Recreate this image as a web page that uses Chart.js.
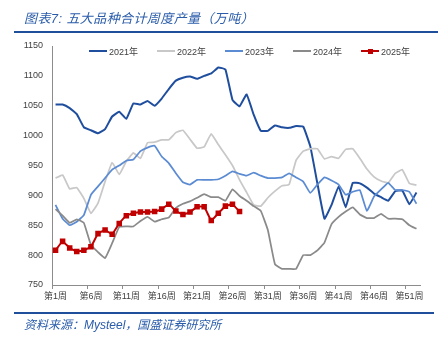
<!DOCTYPE html>
<html>
<head>
<meta charset="utf-8">
<script src="https://cdn.jsdelivr.net/npm/chart.js@4.4.1/dist/chart.umd.min.js"></script>
<style>
  body { margin: 0; background: #fff; }
  #wrap { position: relative; width: 438px; height: 339px; overflow: hidden; }
  #chart { position: absolute; left: 0; top: 0; }
  .caption {
    position: absolute; left: 24px; color: #2a5caa; font-style: italic;
    font-family: "Liberation Sans", "Noto Sans CJK SC", sans-serif; white-space: nowrap;
  }
  #title { top: 8px; font-size: 13px; letter-spacing: 0.4px; }
  #source { top: 315px; font-size: 12px; }
  .rule { position: absolute; left: 14px; height: 2px; background: #1f4e9a; }
  #legend {
    position: absolute; left: 89px; top: 45px; height: 12px; display: flex;
    font: 9px "Liberation Sans", "Noto Sans CJK SC", sans-serif; color: #404040;
  }
  .item { width: 68px; display: flex; align-items: center; }
  .swatch { position: relative; width: 18px; height: 2px; margin-right: 2px; }
  .swatch .dot { position: absolute; left: 6.5px; top: -1.5px; width: 5px; height: 5px; }
</style>
</head>
<body>
<div id="wrap">
  <canvas id="chart" width="438" height="339"></canvas>
  <div id="title" class="caption">图表7:  五大品种合计周度产量（万吨）</div>
  <div class="rule" style="top:31px;width:424px"></div>
  <div id="legend"></div>
  <div class="rule" style="top:312px;width:420px"></div>
  <div id="source" class="caption">资料来源：Mysteel，国盛证券研究所</div>
</div>
<script>
// 第1周 ... 第52周
const weeks = Array.from({ length: 52 }, (_, i) => `第${i + 1}周`);

const seriesNames = ["2021年", "2022年", "2023年", "2024年", "2025年"];
const seriesColors = ["#1f4e9e", "#c8c8c8", "#5b8bd2", "#8a8a8a", "#c00000"];

const y2021 = [1052, 1052, 1046, 1036, 1014, 1009, 1004, 1011, 1032, 1040,
  1028, 1054, 1052, 1058, 1050, 1062, 1078, 1092, 1097, 1099,
  1095, 1100, 1104, 1114, 1111, 1060, 1049, 1069, 1035, 1008,
  1008, 1017, 1014, 1013, 1016, 1015, 982, 920, 861, 884,
  915, 880, 921, 920, 913, 903, 897, 891, 907, 908,
  885, 905];
const y2022 = [929, 934, 911, 913, 895, 870, 887, 923, 955, 935,
  957, 971, 962, 988, 989, 993, 993, 1005, 1009, 994,
  979, 981, 1003, 985, 968, 950, 926, 905, 884, 882,
  896, 907, 916, 918, 959, 974, 978, 978, 961, 965,
  962, 977, 978, 962, 944, 931, 924, 921, 937, 943,
  920, 917];
const y2023 = [884, 861, 850, 856, 867, 901, 915, 929, 943, 950,
  958, 960, 974, 980, 983, 965, 954, 937, 922, 918,
  926, 926, 926, 927, 933, 940, 936, 933, 938, 933,
  929, 929, 930, 937, 930, 923, 904, 918, 930, 925,
  918, 901, 906, 909, 874, 898, 910, 921, 909, 909,
  906, 886];
const y2024 = [877, 866, 854, 860, 854, 817, 805, 795, 820, 847,
  848, 848, 857, 864, 856, 860, 863, 879, 886, 890,
  896, 902, 897, 897, 891, 910, 899, 891, 882, 874,
  842, 785, 777, 777, 777, 800, 800, 808, 821, 852,
  864, 873, 880, 868, 862, 862, 869, 861, 861, 860,
  850, 844];
const y2025 = [808, 823, 812, 806, 808, 814, 836, 842, 835, 853,
  866, 870, 872, 872, 873, 877, 885, 874, 868, 872,
  881, 881, 858, 870, 882, 885, 873];

const yMin = 750;
const yMax = 1150;
const yStep = 50;
const labelEvery = 5;

const axisColor = "#8c8c8c";
const tickFont = { family: '"Liberation Sans", "Noto Sans CJK SC", sans-serif', size: 9 };

renderLegend();
renderChart();

function renderLegend() {
  const el = document.getElementById("legend");

  seriesNames.forEach((name, i) => {
    const item = document.createElement("div");
    item.className = "item";
    const dot = i === 4 ? `<span class="dot" style="background:${seriesColors[i]}"></span>` : "";
    item.innerHTML = `
      <span class="swatch" style="background:${seriesColors[i]}">${dot}</span>
      <span>${name}</span>
    `;
    el.appendChild(item);
  });
}

function renderChart() {
  const values = [y2021, y2022, y2023, y2024, y2025];

  // later years sit on top, like the original
  const datasets = values.map((data, i) => ({
    label: seriesNames[i],
    data: data,
    borderColor: seriesColors[i],
    backgroundColor: seriesColors[i],
    borderWidth: i === 0 || i === 4 ? 2 : 1.75,
    tension: 0.1,
    order: 4 - i,
    pointRadius: i === 4 ? 2.5 : 0,
    pointStyle: "rect",
    pointHoverRadius: 0
  }));

  new Chart(document.getElementById("chart"), {
    type: "line",
    data: { labels: weeks, datasets: datasets },
    options: {
      responsive: false,
      animation: false,
      layout: { padding: { top: 46, left: 0, right: 18, bottom: 34 } },
      plugins: {
        legend: { display: false },
        tooltip: { enabled: false }
      },
      scales: {
        x: {
          offset: true,
          afterFit: (scale) => { scale.height = 20; },
          grid: {
            offset: true,
            drawOnChartArea: false,
            drawTicks: true,
            tickLength: 4,
            color: (ctx) => ctx.index % labelEvery === 0 ? axisColor : "transparent"
          },
          border: { display: true, color: axisColor, width: 1 },
          ticks: {
            autoSkip: false,
            maxRotation: 0,
            padding: 2,
            color: "#404040",
            font: tickFont,
            callback: (value, index) => index % labelEvery === 0 ? weeks[index] : ""
          }
        },
        y: {
          min: yMin,
          max: yMax,
          afterFit: (scale) => { scale.width = 52; },
          grid: { display: false, drawTicks: false },
          border: { display: true, color: axisColor, width: 1 },
          ticks: {
            stepSize: yStep,
            padding: 9,
            color: "#404040",
            font: tickFont,
            callback: (value) => String(value)
          }
        }
      }
    }
  });
}
</script>
</body>
</html>
